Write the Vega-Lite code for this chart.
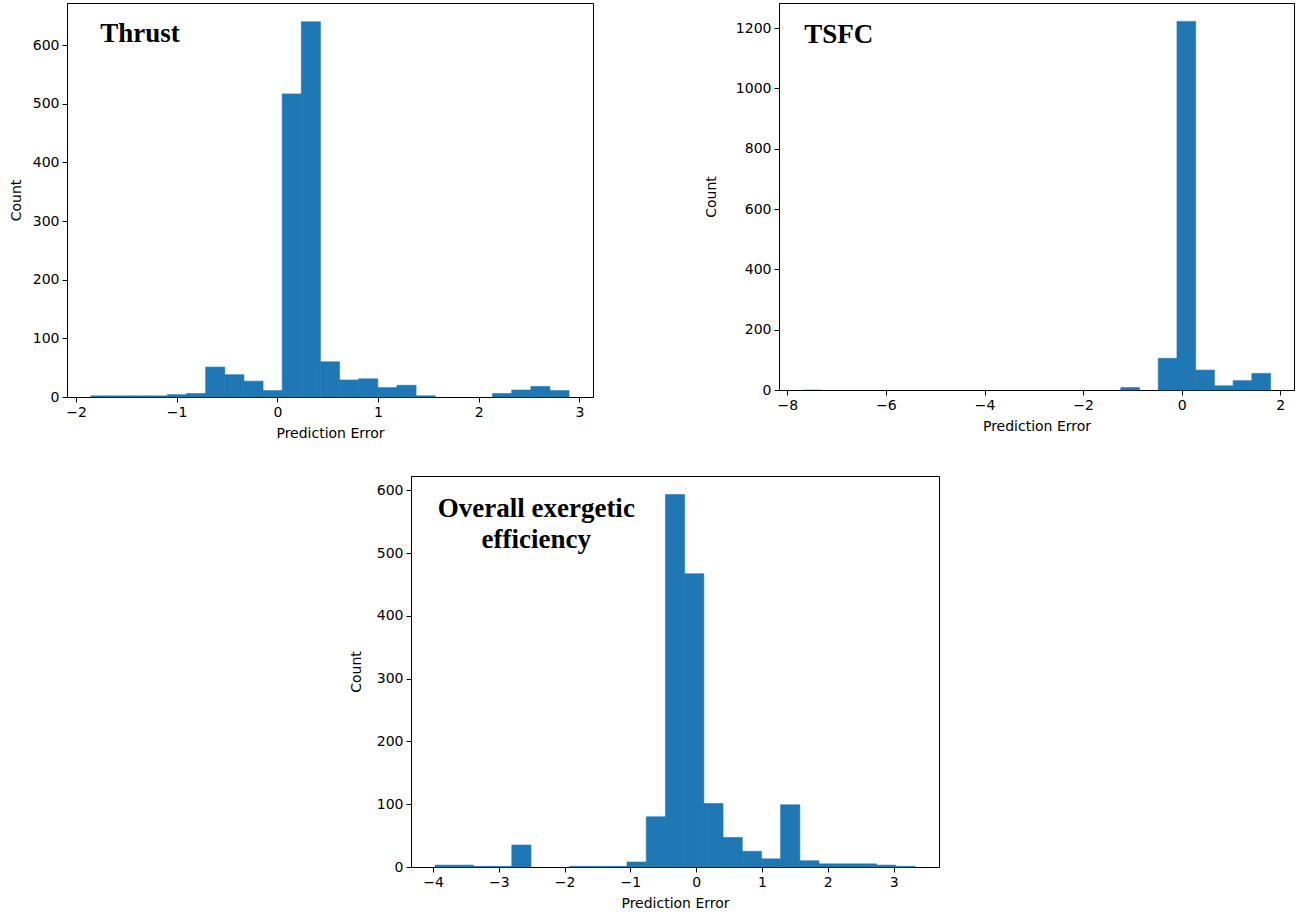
{
  "$schema": "https://vega.github.io/schema/vega-lite/v6.json",
  "padding": {"left": 8, "top": 2, "right": 5, "bottom": 2},
  "background": "white",
  "datasets": {
    "thrust": [
      {"lo": -1.852, "hi": -1.662, "count": 2},
      {"lo": -1.662, "hi": -1.472, "count": 2},
      {"lo": -1.472, "hi": -1.282, "count": 2},
      {"lo": -1.282, "hi": -1.092, "count": 2},
      {"lo": -1.092, "hi": -0.902, "count": 4},
      {"lo": -0.902, "hi": -0.712, "count": 6},
      {"lo": -0.712, "hi": -0.522, "count": 51},
      {"lo": -0.522, "hi": -0.332, "count": 38},
      {"lo": -0.332, "hi": -0.142, "count": 27},
      {"lo": -0.142, "hi": 0.048, "count": 11},
      {"lo": 0.048, "hi": 0.238, "count": 517},
      {"lo": 0.238, "hi": 0.428, "count": 640},
      {"lo": 0.428, "hi": 0.618, "count": 60},
      {"lo": 0.618, "hi": 0.808, "count": 29},
      {"lo": 0.808, "hi": 0.998, "count": 31},
      {"lo": 0.998, "hi": 1.188, "count": 16},
      {"lo": 1.188, "hi": 1.378, "count": 20},
      {"lo": 1.378, "hi": 1.568, "count": 2},
      {"lo": 1.568, "hi": 1.758, "count": 0},
      {"lo": 1.758, "hi": 1.948, "count": 0},
      {"lo": 1.948, "hi": 2.138, "count": 0},
      {"lo": 2.138, "hi": 2.328, "count": 6},
      {"lo": 2.328, "hi": 2.518, "count": 12},
      {"lo": 2.518, "hi": 2.708, "count": 18},
      {"lo": 2.708, "hi": 2.898, "count": 11}
    ],
    "tsfc": [
      {"lo": -7.695, "hi": -7.315, "count": 1},
      {"lo": -7.315, "hi": -6.935, "count": 0},
      {"lo": -6.935, "hi": -6.555, "count": 0},
      {"lo": -6.555, "hi": -6.175, "count": 0},
      {"lo": -6.175, "hi": -5.795, "count": 0},
      {"lo": -5.795, "hi": -5.415, "count": 0},
      {"lo": -5.415, "hi": -5.035, "count": 0},
      {"lo": -5.035, "hi": -4.655, "count": 0},
      {"lo": -4.655, "hi": -4.275, "count": 0},
      {"lo": -4.275, "hi": -3.895, "count": 0},
      {"lo": -3.895, "hi": -3.515, "count": 0},
      {"lo": -3.515, "hi": -3.135, "count": 0},
      {"lo": -3.135, "hi": -2.755, "count": 0},
      {"lo": -2.755, "hi": -2.375, "count": 0},
      {"lo": -2.375, "hi": -1.995, "count": 0},
      {"lo": -1.995, "hi": -1.615, "count": 0},
      {"lo": -1.615, "hi": -1.235, "count": 0},
      {"lo": -1.235, "hi": -0.855, "count": 8},
      {"lo": -0.855, "hi": -0.475, "count": 0},
      {"lo": -0.475, "hi": -0.095, "count": 105},
      {"lo": -0.095, "hi": 0.285, "count": 1222},
      {"lo": 0.285, "hi": 0.665, "count": 66},
      {"lo": 0.665, "hi": 1.045, "count": 14},
      {"lo": 1.045, "hi": 1.425, "count": 31},
      {"lo": 1.425, "hi": 1.805, "count": 55}
    ],
    "exergy": [
      {"lo": -3.969, "hi": -3.6772, "count": 3},
      {"lo": -3.6772, "hi": -3.3854, "count": 3},
      {"lo": -3.3854, "hi": -3.0936, "count": 1},
      {"lo": -3.0936, "hi": -2.8018, "count": 1},
      {"lo": -2.8018, "hi": -2.51, "count": 35},
      {"lo": -2.51, "hi": -2.2182, "count": 0},
      {"lo": -2.2182, "hi": -1.9264, "count": 0},
      {"lo": -1.9264, "hi": -1.6346, "count": 1},
      {"lo": -1.6346, "hi": -1.3428, "count": 1},
      {"lo": -1.3428, "hi": -1.051, "count": 1},
      {"lo": -1.051, "hi": -0.7592, "count": 8},
      {"lo": -0.7592, "hi": -0.4674, "count": 80},
      {"lo": -0.4674, "hi": -0.1756, "count": 593},
      {"lo": -0.1756, "hi": 0.1162, "count": 467},
      {"lo": 0.1162, "hi": 0.408, "count": 101},
      {"lo": 0.408, "hi": 0.6998, "count": 47},
      {"lo": 0.6998, "hi": 0.9916, "count": 25},
      {"lo": 0.9916, "hi": 1.2834, "count": 13},
      {"lo": 1.2834, "hi": 1.5752, "count": 99},
      {"lo": 1.5752, "hi": 1.867, "count": 10},
      {"lo": 1.867, "hi": 2.1588, "count": 5},
      {"lo": 2.1588, "hi": 2.4506, "count": 5},
      {"lo": 2.4506, "hi": 2.7424, "count": 5},
      {"lo": 2.7424, "hi": 3.0342, "count": 3},
      {"lo": 3.0342, "hi": 3.326, "count": 1}
    ],
    "thrust_label": [{"x": -1.76, "y": 605, "label": "Thrust"}],
    "tsfc_label": [{"x": -7.66, "y": 1150, "label": "TSFC"}],
    "exergy_label": [{"x": -2.43, "y": 557, "label": "Overall exergetic\nefficiency"}]
  },
  "spacing": 34,
  "vconcat": [
    {
      "spacing": 109,
      "hconcat": [
        {
          "width": 526,
          "height": 394,
          "layer": [
            {
              "data": {"name": "thrust"},
              "mark": {"type": "rect", "color": "#1f77b4", "stroke": "#1f77b4", "strokeWidth": 0.6},
              "encoding": {
                "x": {"field": "lo", "type": "quantitative", "scale": {"domain": [-2.0895, 3.1355], "nice": false, "zero": false}, "axis": {"values": [-2, -1, 0, 1, 2, 3], "format": "d", "title": "Prediction Error"}},
                "x2": {"field": "hi"},
                "y": {"field": "count", "type": "quantitative", "scale": {"domain": [0, 672], "nice": false}, "axis": {"values": [0, 100, 200, 300, 400, 500, 600], "format": "d", "title": "Count"}},
                "y2": {"datum": 0},
                "strokeOpacity": {"condition": {"test": "datum.count > 0", "value": 1}, "value": 0}
              }
            },
            {
              "data": {"name": "thrust_label"},
              "mark": {"type": "text", "font": "Liberation Serif", "fontWeight": "bold", "fontSize": 27, "align": "left", "baseline": "alphabetic", "color": "black"},
              "encoding": {
                "x": {"field": "x", "type": "quantitative"},
                "y": {"field": "y", "type": "quantitative"},
                "text": {"field": "label"}
              }
            }
          ]
        },
        {
          "width": 515,
          "height": 387,
          "layer": [
            {
              "data": {"name": "tsfc"},
              "mark": {"type": "rect", "color": "#1f77b4", "stroke": "#1f77b4", "strokeWidth": 0.6},
              "encoding": {
                "x": {"field": "lo", "type": "quantitative", "scale": {"domain": [-8.17, 2.28], "nice": false, "zero": false}, "axis": {"values": [-8, -6, -4, -2, 0, 2], "format": "d", "title": "Prediction Error"}},
                "x2": {"field": "hi"},
                "y": {"field": "count", "type": "quantitative", "scale": {"domain": [0, 1283], "nice": false}, "axis": {"values": [0, 200, 400, 600, 800, 1000, 1200], "format": "d", "title": "Count", "titlePadding": 17}},
                "y2": {"datum": 0},
                "strokeOpacity": {"condition": {"test": "datum.count > 1", "value": 1}, "value": 0}
              }
            },
            {
              "data": {"name": "tsfc_label"},
              "mark": {"type": "text", "font": "Liberation Serif", "fontWeight": "bold", "fontSize": 27, "align": "left", "baseline": "alphabetic", "color": "black"},
              "encoding": {
                "x": {"field": "x", "type": "quantitative"},
                "y": {"field": "y", "type": "quantitative"},
                "text": {"field": "label"}
              }
            }
          ]
        }
      ]
    },
    {
      "spacing": 280,
      "hconcat": [
        {
          "width": 1,
          "height": 1,
          "data": {"values": []},
          "mark": "point",
          "encoding": {}
        },
        {
          "width": 528,
          "height": 391,
          "layer": [
            {
              "data": {"name": "exergy"},
              "mark": {"type": "rect", "color": "#1f77b4", "stroke": "#1f77b4", "strokeWidth": 0.6},
              "encoding": {
                "x": {"field": "lo", "type": "quantitative", "scale": {"domain": [-4.334, 3.69], "nice": false, "zero": false}, "axis": {"values": [-4, -3, -2, -1, 0, 1, 2, 3], "format": "d", "title": "Prediction Error"}},
                "x2": {"field": "hi"},
                "y": {"field": "count", "type": "quantitative", "scale": {"domain": [0, 622.65], "nice": false}, "axis": {"values": [0, 100, 200, 300, 400, 500, 600], "format": "d", "title": "Count", "titlePadding": 13}},
                "y2": {"datum": 0},
                "strokeOpacity": {"condition": {"test": "datum.count > 0", "value": 1}, "value": 0}
              }
            },
            {
              "data": {"name": "exergy_label"},
              "mark": {"type": "text", "font": "Liberation Serif", "fontWeight": "bold", "fontSize": 27, "align": "center", "baseline": "alphabetic", "lineBreak": "\n", "lineHeight": 31, "color": "black"},
              "encoding": {
                "x": {"field": "x", "type": "quantitative"},
                "y": {"field": "y", "type": "quantitative"},
                "text": {"field": "label"}
              }
            }
          ]
        }
      ]
    }
  ],
  "config": {
    "view": {"stroke": "black", "strokeWidth": 1},
    "axis": {
      "labelFont": "DejaVu Sans",
      "labelFontSize": 14,
      "labelColor": "#000",
      "titleFont": "DejaVu Sans",
      "titleFontSize": 14,
      "titleFontWeight": "normal",
      "titleColor": "#000",
      "tickColor": "#000",
      "domainColor": "#000",
      "tickSize": 5,
      "labelPadding": 3,
      "grid": false,
      "labelFlush": false,
      "labelOverlap": false
    },
    "axisX": {"titlePadding": 7},
    "axisY": {"titlePadding": 9}
  }
}
